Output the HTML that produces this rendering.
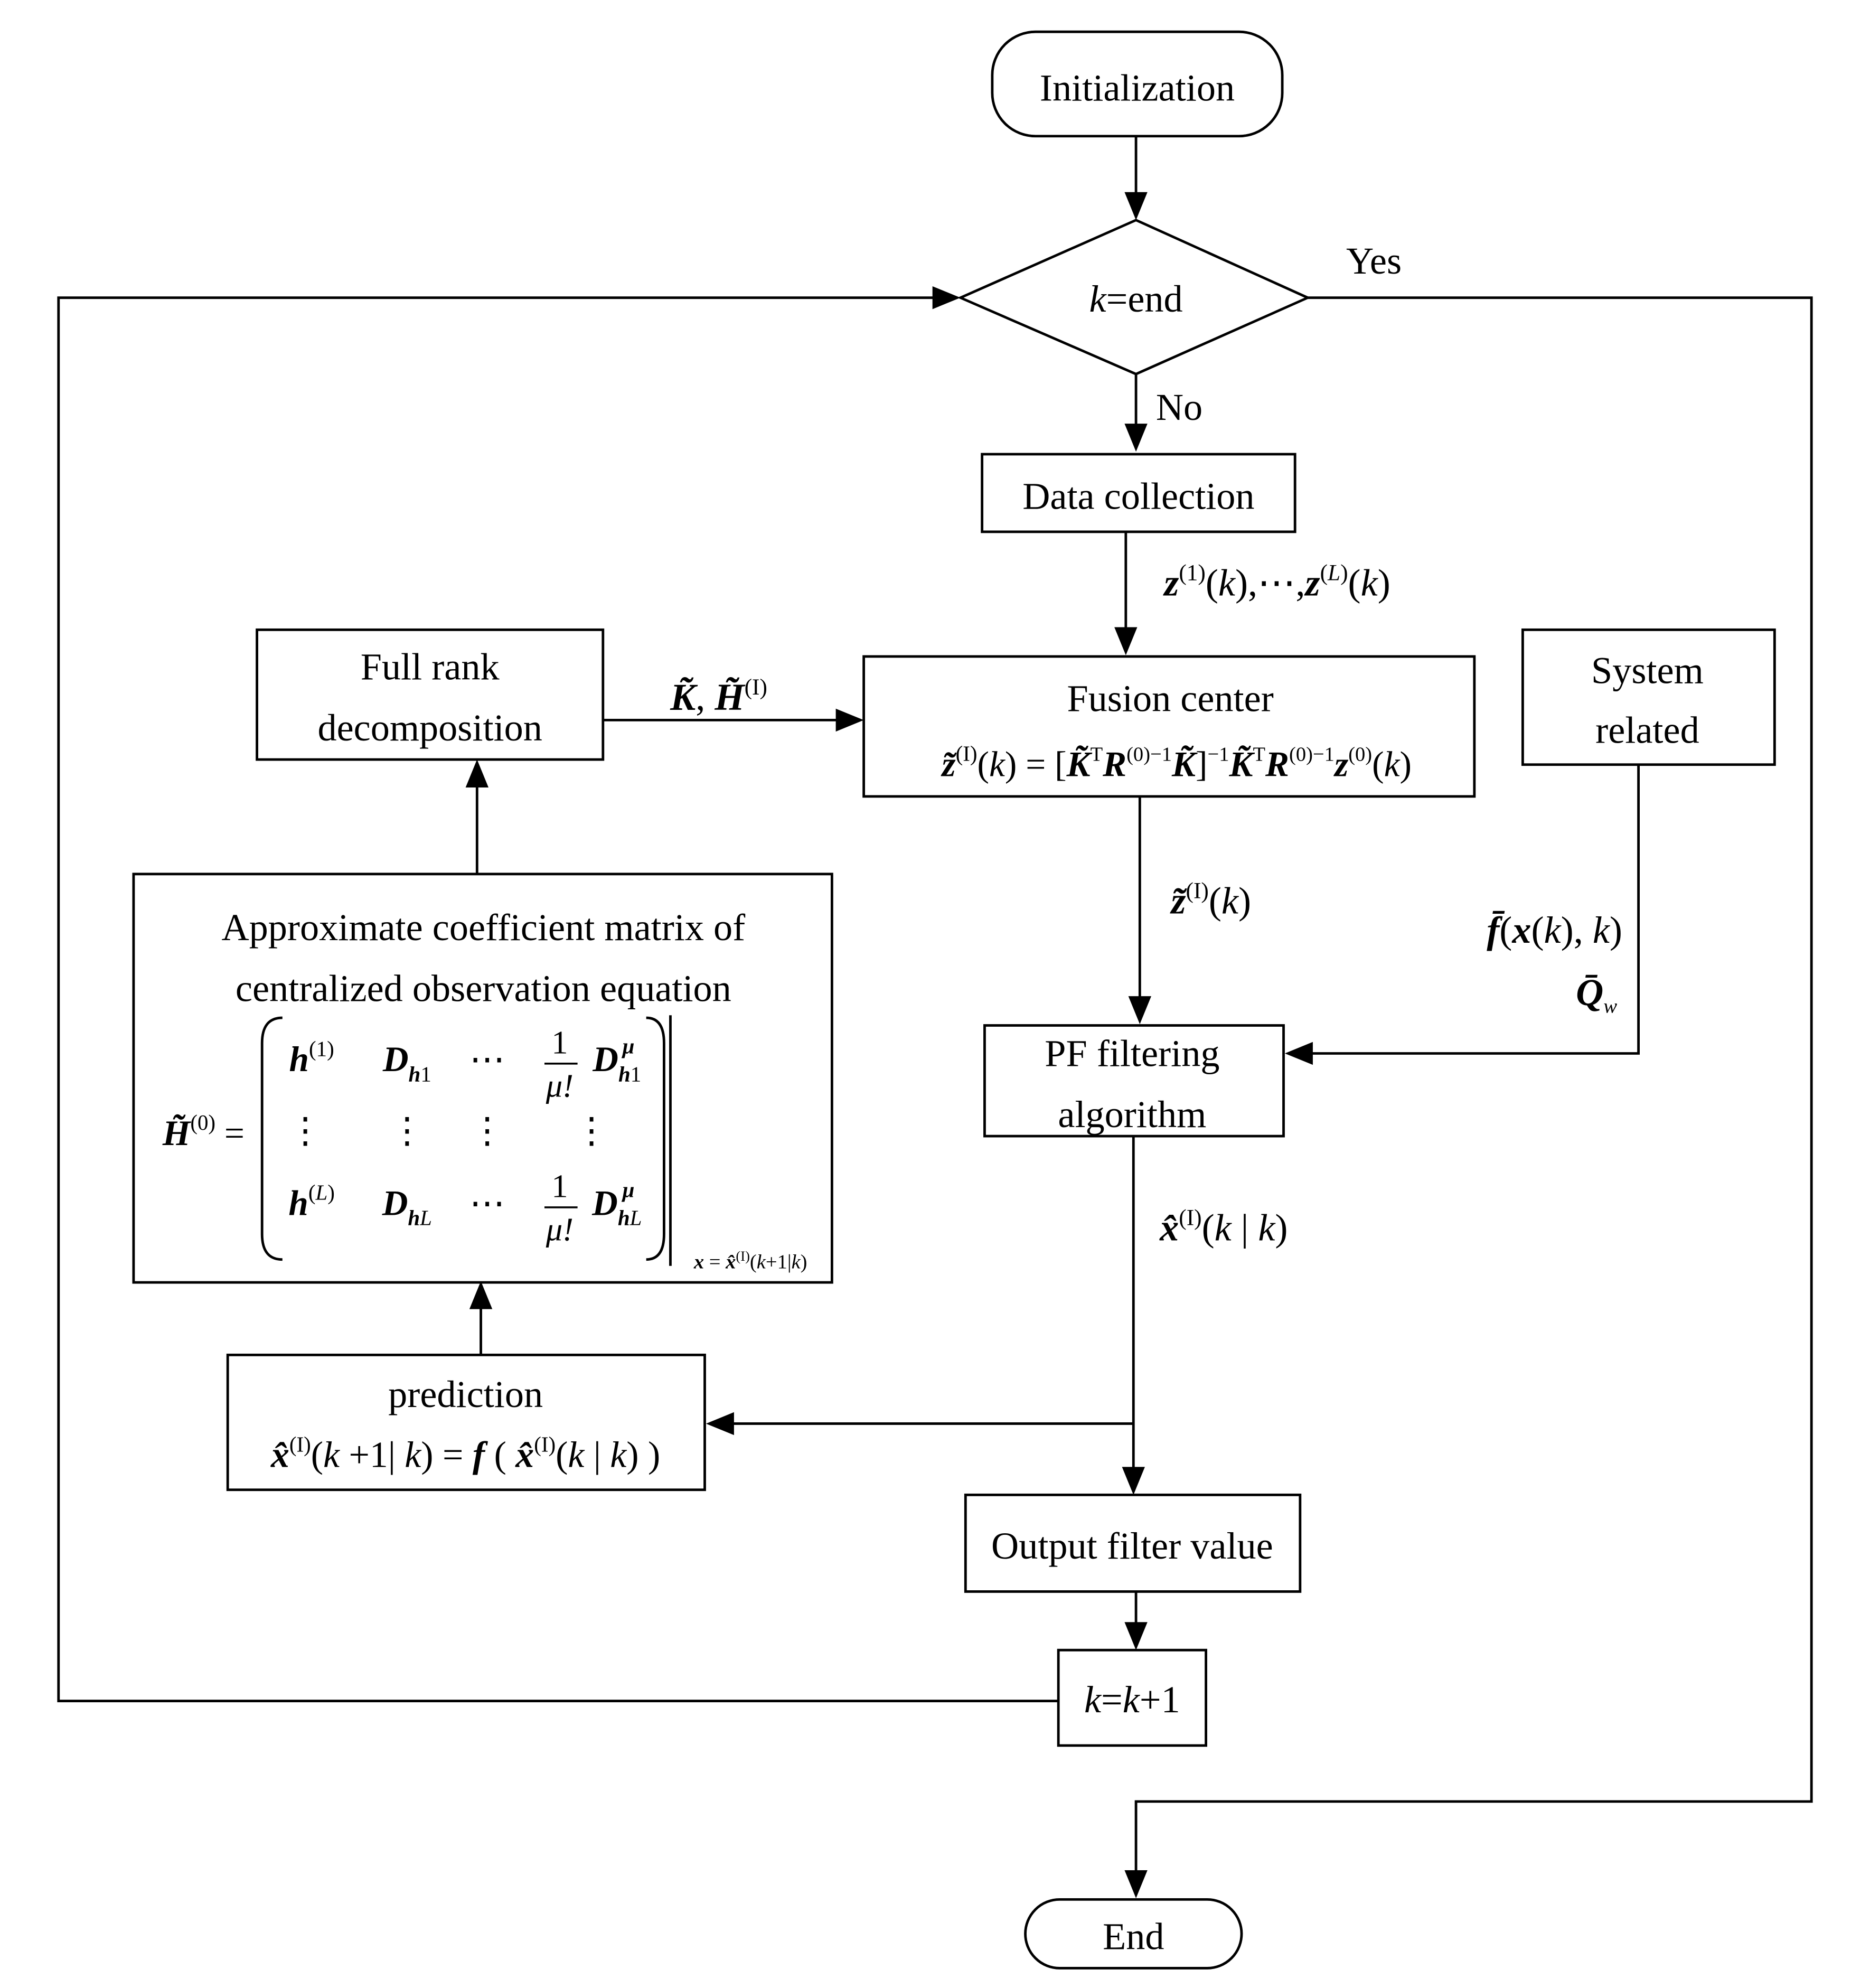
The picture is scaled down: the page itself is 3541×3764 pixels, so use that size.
<!DOCTYPE html>
<html><head><meta charset="utf-8"><style>
html,body{margin:0;padding:0;background:#fff;}
svg{display:block;}
text{font-family:"Liberation Serif",serif;fill:#000;}
.b{font-weight:bold;font-style:italic;}
.i{font-style:italic;}
</style></head><body>
<svg width="3541" height="3764" viewBox="0 0 1470 1562.6" preserveAspectRatio="none" xmlns="http://www.w3.org/2000/svg">
<defs><marker id="a" markerWidth="10" markerHeight="10" refX="9" refY="5" orient="auto" markerUnits="userSpaceOnUse"><path d="M0,0 L0,0" /></marker></defs>
<g fill="none" stroke="#000" stroke-width="2">
<rect x="780" y="25" width="228" height="82" rx="34"/>
<polygon points="755,234 893,173 1028,234 893,294"/>
<rect x="772" y="357" width="246" height="61"/>
<rect x="679" y="516" width="480" height="110"/>
<rect x="202" y="495" width="272" height="102"/>
<rect x="1197" y="495" width="198" height="106"/>
<rect x="774" y="806" width="235" height="87"/>
<rect x="105" y="687" width="549" height="321"/>
<rect x="179" y="1065" width="375" height="106"/>
<rect x="759" y="1175" width="263" height="76"/>
<rect x="832" y="1297" width="116" height="75"/>
<rect x="806" y="1493" width="170" height="54" rx="27"/>
<!-- lines -->
<line x1="893" y1="107" x2="893" y2="153"/>
<polyline points="1028,234 1424,234 1424,1416 893,1416 893,1472"/>
<line x1="893" y1="294" x2="893" y2="335"/>
<line x1="885" y1="418" x2="885" y2="495"/>
<line x1="474" y1="566" x2="659" y2="566"/>
<polyline points="1288,601 1288,828 1030,828"/>
<line x1="896" y1="626" x2="896" y2="785"/>
<line x1="891" y1="893" x2="891" y2="1155"/>
<line x1="891" y1="1119" x2="575" y2="1119"/>
<line x1="378" y1="1065" x2="378" y2="1028"/>
<line x1="375" y1="687" x2="375" y2="617"/>
<line x1="893" y1="1251" x2="893" y2="1277"/>
<polyline points="832,1337 46,1337 46,234 735,234"/>
<!-- matrix parens -->
<path d="M222,800 Q206,800 206,820 L206,970 Q206,990 222,990"/>
<path d="M508,800 Q522,800 522,820 L522,970 Q522,990 508,990"/>
<line x1="527" y1="798" x2="527" y2="995"/>
</g>
<g fill="#000">
<polygon points="893,173 884,151 902,151"/>
<polygon points="893,1492 884,1470 902,1470"/>
<polygon points="893,355 884,333 902,333"/>
<polygon points="885,515 876,493 894,493"/>
<polygon points="679,566 657,557 657,575"/>
<polygon points="1010,828 1032,819 1032,837"/>
<polygon points="896,805 887,783 905,783"/>
<polygon points="891,1175 882,1153 900,1153"/>
<polygon points="555,1119 577,1110 577,1128"/>
<polygon points="378,1007 369,1029 387,1029"/>
<polygon points="375,597 366,619 384,619"/>
<polygon points="893,1297 884,1275 902,1275"/>
<polygon points="755,234 733,225 733,243"/>
</g>
<g font-size="30" text-anchor="middle">
<text x="894" y="79">Initialization</text>
<text x="893" y="245"><tspan class="i">k</tspan>=end</text>
<text x="1080" y="215">Yes</text>
<text x="927" y="330">No</text>
<text x="895" y="400">Data collection</text>
<text x="1004" y="468"><tspan class="b">z</tspan><tspan font-size="18" dy="-12">(1)</tspan><tspan dy="12">(</tspan><tspan class="i">k</tspan>),⋯,<tspan class="b">z</tspan><tspan font-size="18" dy="-12">(</tspan><tspan font-size="18" class="i">L</tspan><tspan font-size="18">)</tspan><tspan dy="12">(</tspan><tspan class="i">k</tspan>)</text>
<text x="920" y="559">Fusion center</text>
<text x="925" y="610" font-size="28"><tspan class="b">z̃</tspan><tspan font-size="17" dy="-12">(I)</tspan><tspan dy="12">(</tspan><tspan class="i">k</tspan>) = [<tspan class="b">K̃</tspan><tspan font-size="16" dy="-12">T</tspan><tspan class="b" dy="12">R</tspan><tspan font-size="16" dy="-12">(0)−1</tspan><tspan class="b" dy="12">K̃</tspan>]<tspan font-size="16" dy="-12">−1</tspan><tspan class="b" dy="12">K̃</tspan><tspan font-size="16" dy="-12">T</tspan><tspan class="b" dy="12">R</tspan><tspan font-size="16" dy="-12">(0)−1</tspan><tspan class="b" dy="12">z</tspan><tspan font-size="16" dy="-12">(0)</tspan><tspan dy="12">(</tspan><tspan class="i">k</tspan>)</text>
<text x="338" y="534">Full rank</text>
<text x="338" y="582">decomposition</text>
<text x="565" y="558"><tspan class="b">K̃</tspan>, <tspan class="b">H̃</tspan><tspan font-size="18" dy="-12">(I)</tspan></text>
<text x="1295" y="537">System</text>
<text x="1295" y="584">related</text>
<text x="1222" y="741"><tspan class="b">f̄</tspan>(<tspan class="b">x</tspan>(<tspan class="i">k</tspan>), <tspan class="i">k</tspan>)</text>
<text x="1255" y="790"><tspan class="b">Q̄</tspan><tspan font-size="16" class="i" dy="6">w</tspan></text>
<text x="952" y="718"><tspan class="b">z̃</tspan><tspan font-size="18" dy="-12">(I)</tspan><tspan dy="12">(</tspan><tspan class="i">k</tspan>)</text>
<text x="890" y="838">PF filtering</text>
<text x="890" y="886">algorithm</text>
<text x="962" y="975"><tspan class="b">x̂</tspan><tspan font-size="18" dy="-12">(I)</tspan><tspan dy="12">(</tspan><tspan class="i">k</tspan> | <tspan class="i">k</tspan>)</text>
<text x="366" y="1106">prediction</text>
<text x="366" y="1153" font-size="29"><tspan class="b">x̂</tspan><tspan font-size="17" dy="-12">(I)</tspan><tspan dy="12">(</tspan><tspan class="i">k</tspan> +1| <tspan class="i">k</tspan>) = <tspan class="b">f</tspan> ( <tspan class="b">x̂</tspan><tspan font-size="17" dy="-12">(I)</tspan><tspan dy="12">(</tspan><tspan class="i">k</tspan> | <tspan class="i">k</tspan>) )</text>
<text x="380" y="739">Approximate coefficient matrix of</text>
<text x="380" y="787">centralized observation equation</text>
<text x="160" y="900" font-size="28"><tspan class="b">H̃</tspan><tspan font-size="17" dy="-12">(0)</tspan><tspan dy="12"> =</tspan></text>
<text x="245" y="842" font-size="28"><tspan class="b">h</tspan><tspan font-size="17" dy="-12">(1)</tspan></text>
<text x="320" y="842" font-size="28"><tspan class="b">D</tspan><tspan font-size="17" class="b" dy="8">h</tspan><tspan font-size="17">1</tspan></text>
<text x="383" y="842" font-size="28">⋯</text>
<text x="440" y="828" font-size="26">1</text>
<line x1="428" y1="836" x2="454" y2="836" stroke="#000" stroke-width="1.5"/>
<text x="440" y="862" font-size="26" class="i">μ!</text>
<text x="485" y="842" font-size="28"><tspan class="b">D</tspan><tspan font-size="17" class="b" dy="8">h</tspan><tspan font-size="17">1</tspan></text>
<text x="494" y="828" font-size="17" class="b">μ</text>
<text x="240" y="898" font-size="28">⋮</text>
<text x="320" y="898" font-size="28">⋮</text>
<text x="383" y="898" font-size="28">⋮</text>
<text x="465" y="898" font-size="28">⋮</text>
<text x="245" y="955" font-size="28"><tspan class="b">h</tspan><tspan font-size="17" dy="-12">(</tspan><tspan font-size="17" class="i">L</tspan><tspan font-size="17">)</tspan></text>
<text x="320" y="955" font-size="28"><tspan class="b">D</tspan><tspan font-size="17" class="b" dy="8">h</tspan><tspan font-size="17" class="i">L</tspan></text>
<text x="383" y="955" font-size="28">⋯</text>
<text x="440" y="941" font-size="26">1</text>
<line x1="428" y1="949" x2="454" y2="949" stroke="#000" stroke-width="1.5"/>
<text x="440" y="975" font-size="26" class="i">μ!</text>
<text x="485" y="955" font-size="28"><tspan class="b">D</tspan><tspan font-size="17" class="b" dy="8">h</tspan><tspan font-size="17" class="i">L</tspan></text>
<text x="494" y="941" font-size="17" class="b">μ</text>
<text x="590" y="997" font-size="16"><tspan class="b">x</tspan> = <tspan class="b">x̂</tspan><tspan font-size="11" dy="-6">(I)</tspan><tspan dy="6">(</tspan><tspan class="i">k</tspan>+1|<tspan class="i">k</tspan>)</text>
<text x="890" y="1225">Output filter value</text>
<text x="890" y="1346"><tspan class="i">k</tspan>=<tspan class="i">k</tspan>+1</text>
<text x="891" y="1532">End</text>
</g>
</svg>
</body></html>
